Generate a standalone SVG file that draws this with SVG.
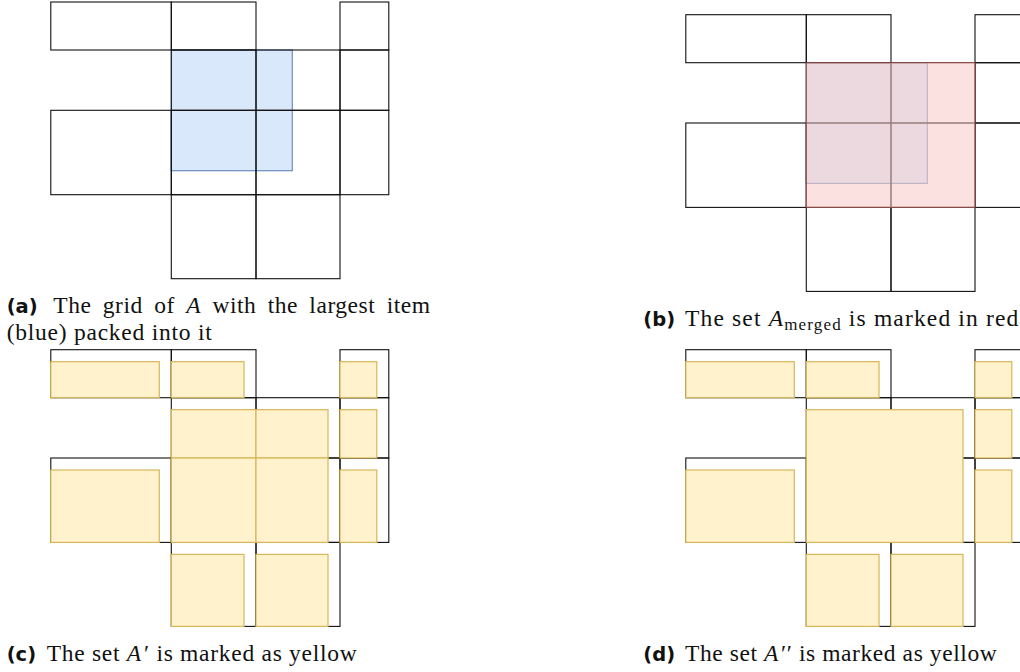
<svg xmlns="http://www.w3.org/2000/svg" xmlns:xlink="http://www.w3.org/1999/xlink" width="1020" height="672" viewBox="0 0 1020 672">
<style>
.cell{fill:none;stroke:#111;stroke-width:1.1}
.blue{fill:#dae8fc;stroke:#6c8ebf;stroke-width:1.2}
.red{fill:#f8cecc;fill-opacity:0.6;stroke:#b85450;stroke-opacity:0.6;stroke-width:1.2}
.yel{fill:#fff2cc;stroke:#d6b656;stroke-width:1.2}
.cap{font-family:"Liberation Serif","DejaVu Serif",serif;font-size:23.5px;fill:#111}
.lab{font-family:"DejaVu Sans","Liberation Sans",sans-serif;font-weight:bold;font-size:19.5px;fill:#111}
.it{font-style:italic}
.sub{font-size:17px}
</style>
<defs>
<g id="grid">
<rect class="cell" x="50.8" y="2" width="120.5" height="48"/>
<rect class="cell" x="171.3" y="2" width="84.7" height="48"/>
<rect class="cell" x="340" y="2" width="48.8" height="48"/>
<rect class="cell" x="171.3" y="50" width="84.7" height="60.3"/>
<rect class="cell" x="256" y="50" width="84" height="60.3"/>
<rect class="cell" x="340" y="50" width="48.8" height="60.3"/>
<rect class="cell" x="50.8" y="110.3" width="120.5" height="84.4"/>
<rect class="cell" x="171.3" y="110.3" width="84.7" height="84.4"/>
<rect class="cell" x="256" y="110.3" width="84" height="84.4"/>
<rect class="cell" x="340" y="110.3" width="48.8" height="84.4"/>
<rect class="cell" x="171.3" y="194.7" width="84.7" height="84"/>
<rect class="cell" x="256" y="194.7" width="84" height="84"/>
</g>
<g id="yel-common">
<rect class="yel" x="50.8" y="14" width="108.5" height="36"/>
<rect class="yel" x="171.3" y="14" width="72.7" height="36"/>
<rect class="yel" x="340" y="14" width="36.8" height="36"/>
<rect class="yel" x="340" y="62" width="36.8" height="48.3"/>
<rect class="yel" x="50.8" y="122.3" width="108.5" height="72.4"/>
<rect class="yel" x="340" y="122.3" width="36.8" height="72.4"/>
<rect class="yel" x="171.3" y="206.7" width="72.7" height="72"/>
<rect class="yel" x="256" y="206.7" width="72" height="72"/>
</g>
</defs>

<g id="panel-a">
<rect class="blue" x="171.3" y="50" width="121" height="120.7"/>
<use xlink:href="#grid"/>
</g>

<g id="panel-b" transform="translate(635,12.7)">
<rect class="blue" x="171.3" y="50" width="121" height="120.7"/>
<use xlink:href="#grid"/>
<rect class="red" x="171.3" y="50" width="168.7" height="144.7"/>
</g>

<g id="panel-c" transform="translate(0,347.7)">
<use xlink:href="#grid"/>
<use xlink:href="#yel-common"/>
<rect class="yel" x="171.3" y="62" width="84.7" height="48.3"/>
<rect class="yel" x="256" y="62" width="72" height="48.3"/>
<rect class="yel" x="171.3" y="110.3" width="84.7" height="84.4"/>
<rect class="yel" x="256" y="110.3" width="72" height="84.4"/>
</g>

<g id="panel-d" transform="translate(635,347.7)">
<use xlink:href="#grid"/>
<use xlink:href="#yel-common"/>
<rect class="yel" x="171.3" y="62" width="156.7" height="132.7"/>
</g>

<g id="captions">
<text class="lab" x="6.7" y="313">(a)</text>
<text class="cap" x="53.3" y="313" word-spacing="5" textLength="376.7" lengthAdjust="spacing">The grid of <tspan class="it">A</tspan> with the largest item</text>
<text class="cap" x="6.7" y="340" textLength="205" lengthAdjust="spacing">(blue) packed into it</text>
<text class="lab" x="643.3" y="326">(b)</text>
<text class="cap" x="685" y="326" textLength="333.3" lengthAdjust="spacing">The set <tspan class="it">A</tspan><tspan class="sub" dy="4">merged</tspan><tspan dy="-4"> is marked in red</tspan></text>
<text class="lab" x="6.7" y="661">(c)</text>
<text class="cap" x="46.7" y="661" textLength="310" lengthAdjust="spacing">The set <tspan class="it">A</tspan><tspan dx="2">′</tspan> is marked as yellow</text>
<text class="lab" x="643.3" y="661">(d)</text>
<text class="cap" x="685" y="661" textLength="311.7" lengthAdjust="spacing">The set <tspan class="it">A</tspan><tspan dx="2">′′</tspan> is marked as yellow</text>
</g>
</svg>
